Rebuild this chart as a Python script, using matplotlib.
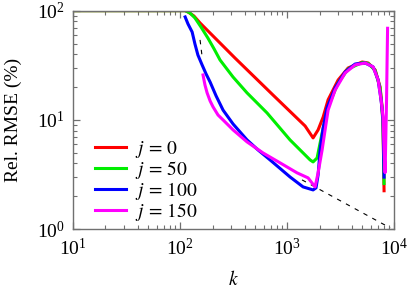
import numpy as np
import matplotlib
matplotlib.use("Agg")
import matplotlib.pyplot as plt

plt.rcParams["font.family"] = "serif"
plt.rcParams["font.serif"] = ["Liberation Serif", "DejaVu Serif"]
plt.rcParams["mathtext.fontset"] = "stix"

# %% Data
k_red = [10, 111, 118, 134, 153, 324, 735, 1465, 1596, 1740, 1938, 2158, 2404, 2981,
         3697, 4998, 5688, 6610, 7350, 7670, 7840, 8010]
v_red = [100, 100, 97.3, 89.4, 77.1, 36.9, 16.9, 8.81, 7.77, 6.85, 8.11, 10.6, 15.3, 23.2,
         29.9, 33.9, 33.2, 28.7, 20.1, 13.2, 8.63, 2.25]

k_green = [10, 111, 123, 137, 156, 181, 207, 235, 311, 420, 646, 1059, 1529, 1631, 1740,
           1897, 2113, 2404, 2981, 3697, 4998, 5688, 6610, 7350, 7670, 7840, 8010]
v_green = [100, 100, 95.3, 85.8, 70.9, 56.2, 44.6, 35.4, 24.7, 17.7, 11.6, 6.57, 4.59,
           4.31, 4.13, 4.49, 7.60, 13.2, 21.8, 29.3, 33.5, 32.9, 28.4, 19.6, 12.9, 8.4, 2.62]

k_blue = [111, 118, 129, 137, 146, 160, 174, 190, 216, 251, 311, 420, 532, 689, 1059,
          1403, 1740, 1853, 1938, 2023, 2158, 2350, 2795, 3465, 4299, 5333, 6330, 7050,
          7510, 7840, 8010]
v_blue = [87.6, 75.6, 63.8, 49.6, 39.3, 31.8, 26.4, 22.2, 16.6, 12.3, 9.19, 6.57, 5.32,
          4.31, 3.01, 2.44, 2.29, 2.39, 3.14, 5.32, 8.4, 12.9, 19.6, 27.5, 32.5, 33.2,
          30.6, 23.2, 15.3, 10.0, 3.0]

k_mag = [163, 170, 178, 190, 202, 225, 251, 311, 420, 593, 855, 1233, 1563, 1816, 1938,
         2113, 2253, 2404, 2795, 3465, 4299, 5333, 6330, 7050, 7510, 7840, 8010, 8190,
         8450, 8550, 8640]
v_mag = [25.8, 20.9, 17.7, 14.9, 13.2, 11.1, 10.0, 8.11, 6.30, 4.99, 4.05, 3.28, 2.95,
         2.44, 3.28, 5.32, 8.11, 12.3, 18.8, 26.9, 31.9, 33.2, 30.6, 23.2, 15.3, 10.6,
         5.32, 3.3, 15.3, 35.4, 69.0]

# dashed reference curve, hidden under the curves in the middle
k_ref = [153, 160, np.nan, 1371, 9120]
v_ref = [54.0, 37.7, np.nan, 2.83, 1.03]

labels = ["$j\\,=\\,0$", "$j\\,=\\,50$", "$j\\,=\\,100$", "$j\\,=\\,150$"]
colors = ["#ff0000", "#00ee00", "#0000ff", "#ff00ff"]

# %% Plot
fig = plt.figure(figsize=(4.07, 2.88), dpi=100)
ax = fig.add_axes([0.180, 0.204, 0.789, 0.759])

ax.plot(k_ref, v_ref, color="black", lw=0.8, dashes=(4, 5), zorder=1)
for kk, vv, c, lab in zip([k_red, k_green, k_blue, k_mag],
                          [v_red, v_green, v_blue, v_mag], colors, labels):
    ax.plot(kk, vv, color=c, lw=2.2, label=lab, zorder=2)

ax.set_xscale("log")
ax.set_yscale("log")
ax.set_xlim(10, 1e4)
ax.set_ylim(1, 100)

for s in ax.spines.values():
    s.set_color("#707070")
    s.set_linewidth(1.0)
ax.tick_params(which="both", direction="in", top=True, right=True,
               color="#707070", labelsize=14)
ax.tick_params(which="major", length=5, width=0.9, pad=6)
ax.tick_params(which="minor", length=3, width=0.8)

ax.set_xlabel("$k$", fontsize=14, labelpad=8)
ax.set_ylabel("Rel. RMSE (%)", fontsize=14, labelpad=11)

ax.legend(loc="lower left", bbox_to_anchor=(0.03, -0.025), frameon=False,
          fontsize=14, handlelength=1.6, handletextpad=0.5,
          labelspacing=-0.05, borderaxespad=0.2)

fig.savefig("out.png", dpi=100)
